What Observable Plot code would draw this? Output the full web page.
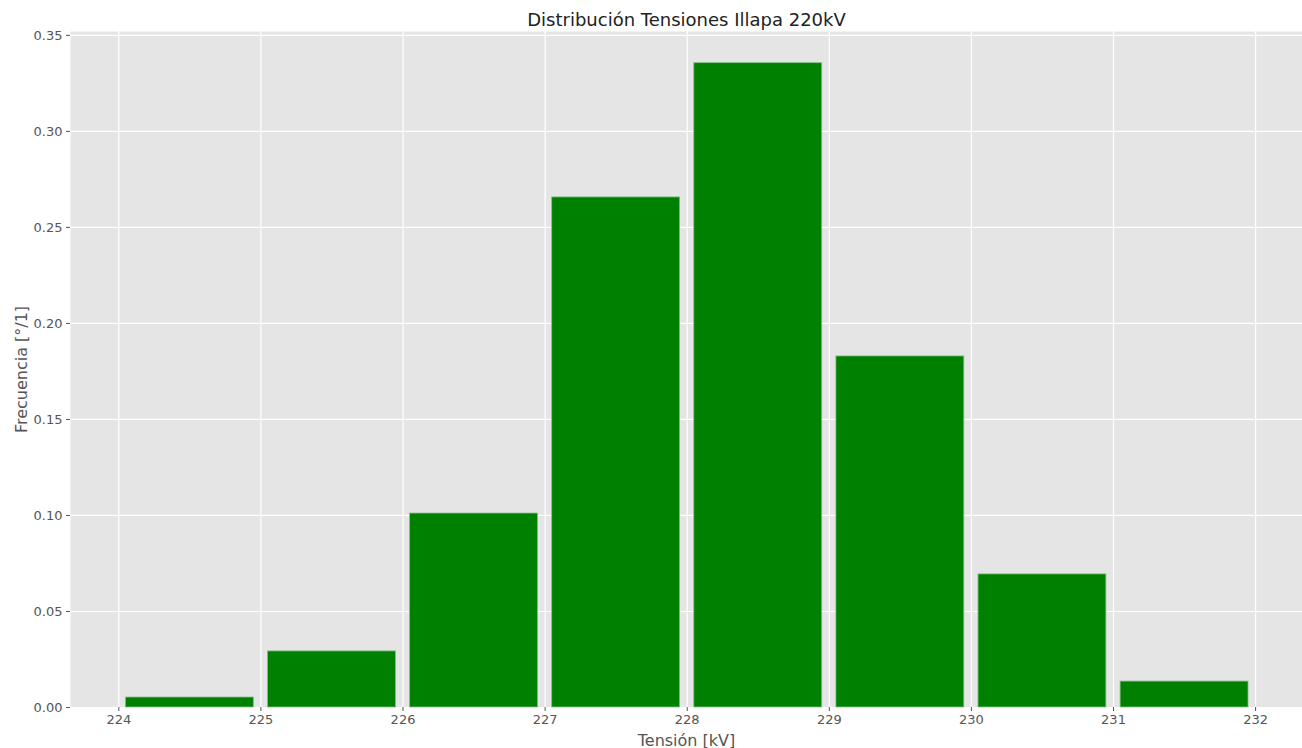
<!DOCTYPE html>
<html>
<head>
<meta charset="utf-8">
<script src="https://cdn.jsdelivr.net/npm/d3@7"></script>
<script src="https://cdn.jsdelivr.net/npm/@observablehq/plot@0.6"></script>
<style>
  html, body { margin: 0; padding: 0; background: white; }
</style>
</head>
<body>
<div id="chart"></div>
<script>
const binStarts = [224, 225, 226, 227, 228, 229, 230, 231];
const frequencies = [0.0052, 0.0292, 0.101, 0.2656, 0.3355, 0.1828, 0.0693, 0.0135];
const xTicks = [224, 225, 226, 227, 228, 229, 230, 231, 232];
const yTicks = [0, 0.05, 0.10, 0.15, 0.20, 0.25, 0.30, 0.35];
const title = "Distribución Tensiones Illapa 220kV";
const xLabel = "Tensión [kV]";
const yLabel = "Frecuencia [°/1]";
const binWidth = 1;
const rwidth = 0.9;

const data = binStarts.map((b, i) => ({bin: b, freq: frequencies[i]}));
const pad = binWidth * (1 - rwidth) / 2;

const chart = Plot.plot({
  width: 1302,
  height: 748,
  marginLeft: 70,
  marginRight: 0,
  marginTop: 31,
  marginBottom: 41,
  style: {fontFamily: "DejaVu Sans", fontSize: "13px", background: "white", overflow: "visible"},
  x: {domain: [223.66, 232.33]},
  y: {domain: [0, 0.352]},
  marks: [
    Plot.frame({fill: "#e5e5e5", stroke: null}),
    Plot.gridX(xTicks, {stroke: "white", strokeOpacity: 1, strokeWidth: 1.2}),
    Plot.gridY(yTicks, {stroke: "white", strokeOpacity: 1, strokeWidth: 1.2}),
    Plot.rectY(data, {
      x1: d => d.bin + pad,
      x2: d => d.bin + binWidth - pad,
      y: "freq",
      fill: "green",
      stroke: "#7fbf7f",
      strokeWidth: 0.8
    }),
    Plot.axisX(xTicks, {tickSize: 4, tickPadding: 3, color: "#555", label: null, tickFormat: d => String(d)}),
    Plot.axisY(yTicks, {tickSize: 4, tickPadding: 4, color: "#555", label: null, tickFormat: d3.format(".2f")}),
    Plot.text([xLabel], {frameAnchor: "bottom", textAnchor: "middle", lineAnchor: "bottom", dy: 38, fontSize: 16, fill: "#555"}),
    Plot.text([yLabel], {frameAnchor: "left", textAnchor: "middle", lineAnchor: "top", dx: -55, rotate: -90, fontSize: 16, fill: "#555"}),
    Plot.text([title], {frameAnchor: "top", textAnchor: "middle", lineAnchor: "bottom", dy: -6, fontSize: 18, fill: "#222"})
  ]
});
document.getElementById("chart").appendChild(chart);
</script>
</body>
</html>
